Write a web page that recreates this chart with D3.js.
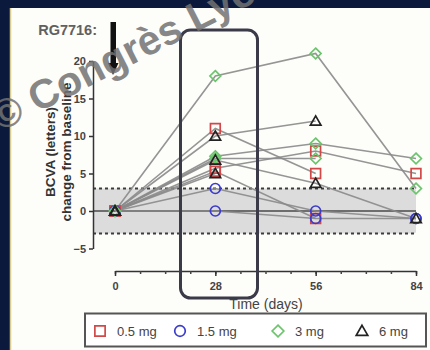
<!DOCTYPE html>
<html>
<head>
<meta charset="utf-8">
<script src="https://cdn.jsdelivr.net/npm/d3@7"></script>
<style>
  html, body { margin: 0; padding: 0; background: #0b1a3c; }
  svg { display: block; font-family: "Liberation Sans", Arial, sans-serif; }
</style>
</head>
<body>
<svg id="chart" width="430" height="350"></svg>
<script>
// Visit days and dose groups
const days = [0, 28, 56, 84];
const xTicks = [0, 28, 56, 84];
const yTicks = [-5, 0, 5, 10, 15, 20];
const doseLabels = ["0.5 mg", "1.5 mg", "3 mg", "6 mg"];
const doseColors = ["#d24848", "#3b3bcc", "#6cc46c", "#222222"];

// Square-shaped diamond (rhombus with equal diagonals)
const symbolRhombus = {
  draw(ctx, size) {
    const r = Math.sqrt(size / 2);
    ctx.moveTo(0, -r); ctx.lineTo(r, 0); ctx.lineTo(0, r); ctx.lineTo(-r, 0); ctx.closePath();
  }
};
const doseSymbols = [d3.symbolSquare, d3.symbolCircle, symbolRhombus, d3.symbolTriangle];
const markerSizes = [95, 78, 58, 48];

// BCVA change from baseline (letters) per patient, one value per visit
const dose05 = [[0, 11, 5], [0, 5.7, 8, 5], [0, 5.3, -1]];
const dose15 = [[0, 3, 0, -1], [0, 0, -1, -1]];
const dose3 = [[0, 18, 21, 3], [0, 7.3, 9, 7], [0, 7, 7]];
const dose6 = [[0, 10, 12], [0, 6.8, 3.7, -1], [0, 5]];
const groups = [dose05, dose15, dose3, dose6];

// Region of no change (±3 letters)
const bandLimits = [-3, 3];

const svg = d3.select("#chart");

// Slide panel
svg.append("rect").attr("x", 10).attr("y", 8).attr("width", 420).attr("height", 342)
  .attr("fill", "#fdfdfa");
svg.append("line").attr("x1", 10.5).attr("x2", 10.5).attr("y1", 8).attr("y2", 350)
  .attr("stroke", "#d9cc92").attr("stroke-width", 1.5);

const x = d3.scaleLinear().domain([0, 84]).range([115, 416]);
const y = d3.scaleLinear().domain([-5, 20]).range([248.5, 61]);
const axisX = 93;

// Shaded ±3 band with dashed borders
svg.append("rect")
  .attr("x", axisX).attr("y", y(bandLimits[1]))
  .attr("width", x(84) - axisX).attr("height", y(bandLimits[0]) - y(bandLimits[1]))
  .attr("rx", 2)
  .attr("fill", "#dcdcdc");
bandLimits.forEach(v => {
  svg.append("line")
    .attr("x1", axisX).attr("x2", x(84))
    .attr("y1", y(v)).attr("y2", y(v))
    .attr("stroke", "#3c3c3c").attr("stroke-width", 2)
    .attr("stroke-dasharray", "3,3");
});
// Zero line
svg.append("line")
  .attr("x1", axisX).attr("x2", x(84))
  .attr("y1", y(0)).attr("y2", y(0))
  .attr("stroke", "#4a4a4a").attr("stroke-width", 1.5);

// Y axis
const gy = svg.append("g").attr("transform", `translate(${axisX},0)`)
  .call(d3.axisLeft(y).tickValues(yTicks).tickSize(4).tickSizeOuter(0).tickPadding(3));
gy.select(".domain").attr("stroke", "#333").attr("stroke-width", 1.5);
gy.selectAll(".tick line").attr("stroke", "#333").attr("stroke-width", 1.5);
gy.selectAll(".tick text").attr("font-size", 11).attr("font-weight", "bold").attr("fill", "#444");

// X axis with minor ticks every week
const xAxisY = 271;
const gxMinor = svg.append("g").attr("transform", `translate(0,${xAxisY})`)
  .call(d3.axisBottom(x).tickValues(d3.range(0, 85, 7)).tickSize(3).tickSizeOuter(0).tickFormat(""));
gxMinor.select(".domain").attr("stroke", "#333").attr("stroke-width", 1.5);
gxMinor.selectAll(".tick line").attr("stroke", "#444").attr("stroke-width", 1.5);
const gx = svg.append("g").attr("transform", `translate(0,${xAxisY})`)
  .call(d3.axisBottom(x).tickValues(xTicks).tickSize(5).tickSizeOuter(0).tickPadding(6));
gx.select(".domain").remove();
gx.selectAll(".tick line").attr("stroke", "#333").attr("stroke-width", 1.5);
gx.selectAll(".tick text").attr("font-size", 11).attr("font-weight", "bold").attr("fill", "#444");

// Axis titles
const yt = svg.append("text")
  .attr("transform", "translate(55,152) rotate(-90)")
  .attr("text-anchor", "middle").attr("font-size", 13.5).attr("font-weight", "bold").attr("fill", "#333");
yt.append("tspan").attr("x", 0).attr("dy", 0).text("BCVA (letters)");
yt.append("tspan").attr("x", 0).attr("dy", 16).text("change from baseline");

svg.append("text").attr("x", 266).attr("y", 309)
  .attr("text-anchor", "middle").attr("font-size", 14).attr("fill", "#444")
  .text("Time (days)");

// Patient trajectories
const line = d3.line().x((d, i) => x(days[i])).y(d => y(d));
groups.forEach(g => g.forEach(p => {
  svg.append("path").attr("d", line(p))
    .attr("fill", "none").attr("stroke", "#8a8a8a").attr("stroke-width", 1.6)
    .attr("stroke-opacity", 0.9);
}));

// Markers
groups.forEach((g, gi) => g.forEach(p => {
  p.forEach((v, i) => {
    svg.append("path")
      .attr("d", d3.symbol().type(doseSymbols[gi]).size(markerSizes[gi])())
      .attr("transform", `translate(${x(days[i])},${y(v) + (gi === 3 ? 1 : 0)})`)
      .attr("fill", "none").attr("stroke", doseColors[gi]).attr("stroke-width", 1.7);
  });
}));

// Dosing arrow
svg.append("text").attr("x", 97).attr("y", 35)
  .attr("text-anchor", "end").attr("font-size", 14.5).attr("font-weight", "bold").attr("fill", "#606060")
  .text("RG7716:");
svg.append("path")
  .attr("d", `M${x(0) - 4.5},22 L${x(0) + 1},22 L${x(0) + 1},63 L${x(0) + 3.5},63 L${x(0) - 2},75 L${x(0) - 7},63 L${x(0) - 4.5},63 Z`)
  .attr("fill", "#111");

// Highlight frame around day 28
svg.append("rect")
  .attr("x", 180.5).attr("y", 30).attr("width", 77).attr("height", 268)
  .attr("rx", 10)
  .attr("fill", "none").attr("stroke", "#3a3a48").attr("stroke-width", 3);

// Legend
svg.append("rect").attr("x", 85).attr("y", 313.5).attr("width", 341).attr("height", 33)
  .attr("fill", "#fff").attr("stroke", "#555").attr("stroke-width", 2);
const legendX = [100, 180, 278, 362];
doseLabels.forEach((lab, i) => {
  svg.append("path")
    .attr("d", d3.symbol().type(doseSymbols[i]).size(markerSizes[i] + 10)())
    .attr("transform", `translate(${legendX[i]},${331 + (i === 3 ? 1 : 0)})`)
    .attr("fill", "none").attr("stroke", doseColors[i]).attr("stroke-width", 1.7);
  svg.append("text").attr("x", legendX[i] + 17).attr("y", 336)
    .attr("font-size", 13).attr("fill", "#444").text(lab);
});

// Watermark
svg.append("text")
  .attr("transform", "translate(0,132) rotate(-27)")
  .attr("font-size", 41).attr("font-weight", "bold").attr("fill", "#727272").attr("fill-opacity", 0.85)
  .text("© Congrès Lyon");
</script>
</body>
</html>
